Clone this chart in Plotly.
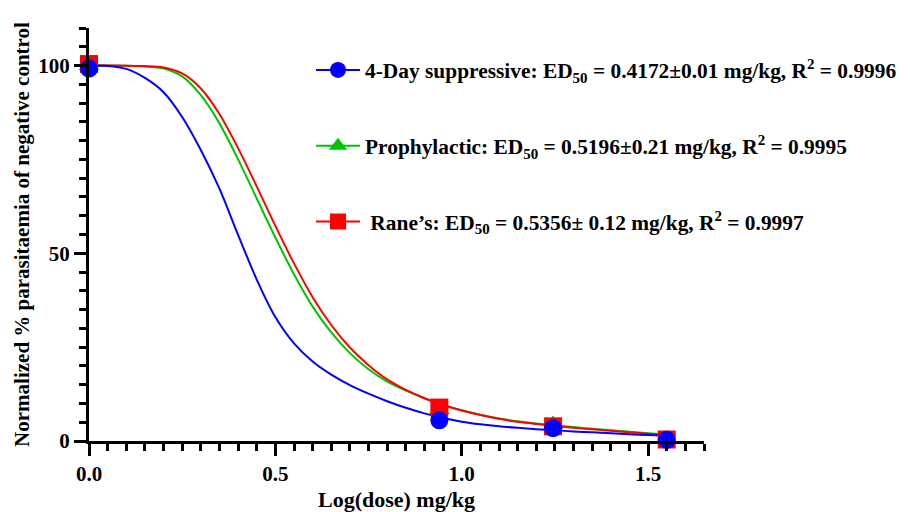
import plotly.graph_objects as go

# ---- data ----
dose_log = [0.0, 0.94, 1.245, 1.55]
pts_4day = [99.2, 5.5, 3.4, 0.3]
pts_proph = [100.0, 8.4, 4.4, 0.4]
pts_rane = [100.4, 8.9, 3.9, 0.4]

curve_x = [0.0, 0.05, 0.10, 0.15, 0.20, 0.25, 0.30, 0.35, 0.40, 0.45, 0.50,
           0.55, 0.60, 0.65, 0.70, 0.75, 0.80, 0.85, 0.90, 0.95, 1.00, 1.05,
           1.10, 1.15, 1.20, 1.25, 1.30, 1.35, 1.40, 1.45, 1.50, 1.55]
curve_4day = [100.0, 99.9, 99.1, 96.7, 92.9, 86.3, 77.5, 67.2, 54.9, 43.0, 33.0,
              26.0, 21.2, 17.7, 14.9, 12.6, 10.6, 8.85, 7.35, 6.1, 5.15, 4.45,
              3.9, 3.5, 3.15, 2.85, 2.55, 2.3, 2.05, 1.8, 1.6, 1.4]
curve_proph = [100.0, 99.99, 99.93, 99.75, 99.2, 97.1, 92.1, 84.6, 75.0, 64.6, 54.2,
               44.4, 35.8, 28.9, 23.4, 19.1, 15.8, 13.4, 11.4, 9.7, 8.2, 7.0,
               6.0, 5.25, 4.65, 4.15, 3.7, 3.25, 2.85, 2.45, 2.05, 1.7]
curve_rane = [100.0, 100.0, 99.97, 99.85, 99.5, 97.9, 93.9, 87.1, 78.0, 67.8, 57.3,
              47.3, 38.3, 30.9, 24.9, 20.2, 16.4, 13.6, 11.4, 9.6, 8.1, 6.9,
              5.9, 5.1, 4.5, 4.0, 3.5, 3.1, 2.7, 2.3, 1.9, 1.5]

labels = [
    "4-Day suppressive: ED<sub>50</sub> = 0.4172±0.01 mg/kg, R<sup>2</sup> = 0.9996",
    "Prophylactic: ED<sub>50</sub> = 0.5196±0.21 mg/kg, R<sup>2</sup> = 0.9995",
    " Rane’s: ED<sub>50</sub> = 0.5356± 0.12 mg/kg, R<sup>2</sup> = 0.9997",
]
x_ticks = [0.0, 0.5, 1.0, 1.5]
y_ticks = [0, 50, 100]

BLUE, GREEN, RED = "#0000FF", "#00C400", "#FF0000"
FONT = "Liberation Serif"

series = [
    (curve_proph, pts_proph, GREEN, "triangle-up", labels[1], "g2"),
    (curve_rane, pts_rane, RED, "square", labels[2], "g3"),
    (curve_4day, pts_4day, BLUE, "circle", labels[0], "g1"),
]

fig = go.Figure()
for cy, py, col, sym, lab, grp in series:
    fig.add_trace(go.Scatter(x=curve_x, y=cy, mode="lines",
                             line=dict(color=col, width=2, shape="spline", smoothing=0.8),
                             showlegend=False, hoverinfo="skip", cliponaxis=False))
for cy, py, col, sym, lab, grp in series:
    fig.add_trace(go.Scatter(x=dose_log, y=py, mode="markers",
                             marker=dict(color=col, symbol=sym, size=18, line=dict(width=0)),
                             showlegend=False, cliponaxis=False))

# legend entries (order: 4-day, prophylactic, Rane's)
for cy, py, col, sym, lab, grp in [series[2], series[0], series[1]]:
    fig.add_trace(go.Scatter(x=[None], y=[None], mode="lines+markers", name=lab, legendgroup=grp,
                             line=dict(color=col, width=2),
                             marker=dict(color=col, symbol=sym, size=17)))

# page body adds an 8px offset; figure is sized so the visible window matches
fig.update_layout(
    width=918, height=520,
    margin=dict(l=81, r=222, t=20, b=87, pad=0),
    plot_bgcolor="white", paper_bgcolor="white",
    font=dict(family=FONT, color="black", size=21),
    showlegend=True,
    legend=dict(x=0.361, y=0.948, xanchor="left", yanchor="top", bgcolor="rgba(0,0,0,0)",
                font=dict(family=FONT, size=21.4, color="black", weight="bold"),
                tracegroupgap=45, itemwidth=44),
    xaxis=dict(range=[0, 1.65], tickvals=x_ticks, ticktext=["0.0", "0.5", "1.0", "1.5"],
               automargin=False,
               showgrid=False, zeroline=False, showline=True, linecolor="black", linewidth=3,
               ticks="outside", ticklen=12, tickwidth=3, tickcolor="black",
               tickfont=dict(family=FONT, size=21, weight="bold"),
               minor=dict(dtick=0.05, tick0=0, ticks="outside", ticklen=7, tickwidth=3, tickcolor="black"),
               title=dict(text="Log(dose) mg/kg", font=dict(family=FONT, size=22, weight="bold"), standoff=7)),
    yaxis=dict(range=[0, 110], tickvals=y_ticks, automargin=False,
               showgrid=False, zeroline=False, showline=True, linecolor="black", linewidth=3,
               ticks="outside", ticklen=12, tickwidth=3, tickcolor="black",
               tickfont=dict(family=FONT, size=21, weight="bold"),
               minor=dict(dtick=5, tick0=0, ticks="outside", ticklen=7, tickwidth=3, tickcolor="black"),
               title=dict(text="Normalized % parasitaemia of negative control",
                          font=dict(family=FONT, size=21, weight="bold"), standoff=3)),
)

fig.write_html("out.html")
